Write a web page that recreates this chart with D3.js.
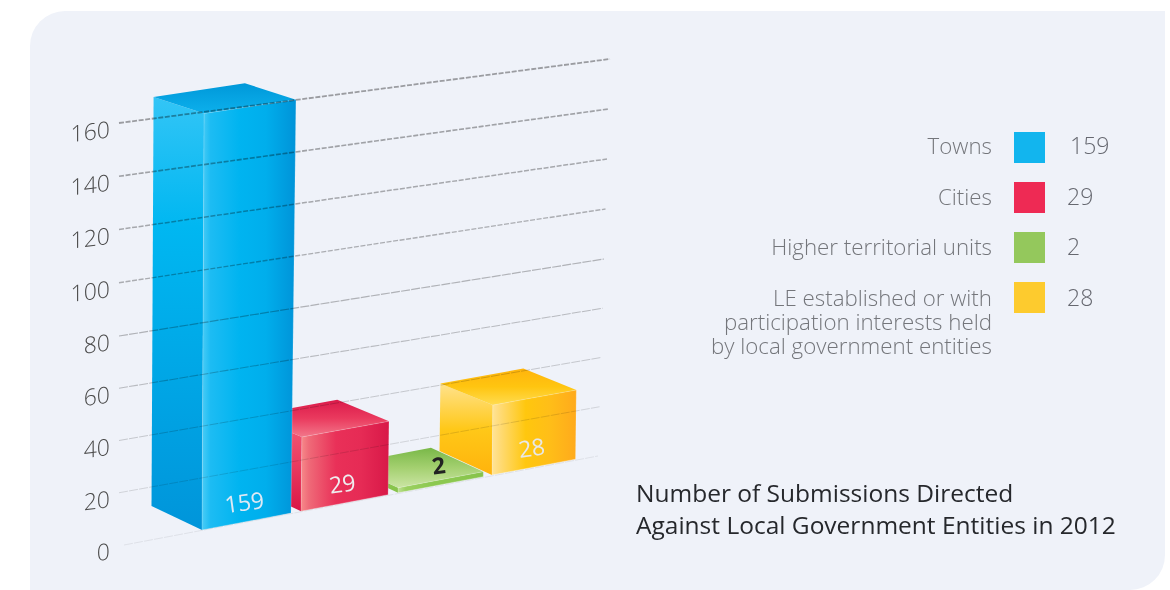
<!DOCTYPE html>
<html>
<head>
<meta charset="utf-8">
<script src="https://cdn.jsdelivr.net/npm/d3@7/dist/d3.min.js"></script>
<style>
html,body{margin:0;padding:0;background:#fff;overflow:hidden}
svg{display:block}
text{font-family:"Open Sans",Lato,sans-serif}
</style>
</head>
<body>
<svg id="chart" width="1170" height="590"></svg>
<script>
// Submissions per kind of local government entity
const categories = ["Towns", "Cities", "Higher territorial units", "LE established or with participation interests held by local government entities"];
const values = [159, 29, 2, 28];
const legendLines = [["Towns"], ["Cities"], ["Higher territorial units"], ["LE established or with", "participation interests held", "by local government entities"]];
const swatchColors = ["#12b5ee", "#ee2a54", "#94c85c", "#fdcb2e"];
const tickValues = [0, 20, 40, 60, 80, 100, 120, 140, 160];
const titleLines = ["Number of Submissions Directed", "Against Local Government Entities in 2012"];

// Face shading per bar: [front stops], [side stops], [top stops]
const shades = [
  { front: ["#49ccf6", "#1dbcf3", "#00b4f0", "#00aeec", "#0093d8"], side: ["#33c5f6", "#00b7f1", "#0095da"], top: ["#0098d9", "#0cb0ec"], label: "#dfe9f4" },
  { front: ["#f78a8a", "#ef6a78", "#e93058", "#e62b55", "#d81848"], side: ["#f2607a", "#ea3c60", "#da1646"], top: ["#db1a4a", "#ea3a5e", "#f2778a"], label: "#efeef0" },
  { front: ["#bfe094", "#9bd060", "#8cc850", "#8cc850", "#86c24a"], side: ["#9bd060", "#8cc850", "#86c24a"], top: ["#79b848", "#a4d070", "#cbe5a4"], label: "#222222" },
  { front: ["#ffe498", "#ffdb78", "#ffc70e", "#ffbe18", "#ffaa1c"], side: ["#ffe28c", "#ffc818", "#ffb30c"], top: ["#ffb40c", "#ffc510", "#ffdc50"], label: "#e8e8e8" }
];

const svg = d3.select("#chart");
const defs = svg.append("defs");

// Rounded panel behind everything
svg.append("path")
  .attr("d", "M30,46 A35,35 0 0 1 65,11 H1165 V555 A35,35 0 0 1 1130,590 H30 Z")
  .attr("fill", "#eff2f9");

// Perspective scales for the floor and the walls
const frontX = d3.scaleLinear().domain([0, 1, 2, 3]).range([202, 301, 398, 492]);
const floorY = d3.scaleLinear().domain([202, 492]).range([530, 475]);
const faceWidth = d3.scaleLinear().domain([202, 492]).range([89, 83.5]);
const unitHeight = d3.scaleLinear().domain([202, 291, 301, 576]).range([2.62, 2.6, 2.56, 2.47]);
const depthX = d3.scaleLinear().domain([202, 576]).range([-50.5, -53]);
const depthY = d3.scaleLinear().domain([0, 28, 159]).range([-24, -21.5, -16.5]);
const lean = d3.scaleLinear().domain([202, 291]).range([0.005, 0.012]).clamp(true);

// Screen position of a front corner at floor position x, height v
const corner = (x, v) => {
  const h = v * unitHeight(x);
  return [x + h * lean(x), floorY(x) - h];
};
// The same corner pushed back along the depth axis
const back = (x, v) => {
  const [px, py] = corner(x, v);
  return [px + depthX(x), py + depthY(v)];
};

function gradient(id, stops, horizontal, offsets) {
  const g = defs.append("linearGradient").attr("id", id)
    .attr("x1", 0).attr("y1", 0)
    .attr("x2", horizontal ? 1 : 0).attr("y2", horizontal ? 0 : 1);
  stops.forEach((c, i) => g.append("stop")
    .attr("offset", offsets ? offsets[i] : i / (stops.length - 1))
    .attr("stop-color", c));
}

shades.forEach((s, i) => {
  gradient(`front${i}`, s.front, true, [0, 0.09, 0.4, 0.68, 1]);
  gradient(`side${i}`, s.side, false, i === 0 ? [0, 0.3, 1] : null);
  gradient(`top${i}`, s.top, false);
});

const poly = pts => "M" + pts.map(p => p.join(",")).join("L") + "Z";
const bars = svg.append("g");

// Farther bars first so nearer ones overlap them
d3.range(categories.length).reverse().forEach(i => {
  const v = values[i];
  const x0 = frontX(i);
  const x1 = x0 + faceWidth(x0);
  const g = bars.append("g");

  g.append("path").attr("fill", `url(#side${i})`)
    .attr("d", poly([back(x0, 0), corner(x0, 0), corner(x0, v), back(x0, v)]));
  g.append("path").attr("fill", `url(#front${i})`)
    .attr("d", poly([corner(x0, 0), corner(x1, 0), corner(x1, v), corner(x0, v)]));
  g.append("path").attr("fill", `url(#top${i})`)
    .attr("d", poly([back(x0, v), back(x1, v), corner(x1, v), corner(x0, v)]));

  // Pale highlights along the box edges
  g.append("path").attr("fill", "none").attr("stroke", "#ffffff").attr("stroke-opacity", 0.22).attr("stroke-width", 0.9)
    .attr("d", "M" + [corner(x0, 0), corner(x0, v), corner(x1, v), corner(x1, 0)].map(p => p.join(",")).join("L"));
  g.append("path").attr("fill", "none").attr("stroke", "#ffffff").attr("stroke-opacity", 0.35).attr("stroke-width", 0.8)
    .attr("d", "M" + [corner(x0, 0), corner(x1, 0)].map(p => p.join(",")).join("L"));
});

// Grid lines run from the left wall to the back wall, over the bars
const yLeft = d3.scaleLinear().domain([0, 80, 160]).range([545, 336, 123]);
const yRight = d3.scaleLinear().domain([0, 80, 160]).range([456, 259, 59]);
const xRight = d3.scaleLinear().domain([0, 160]).range([598, 610]);
const gridWidth = d3.scaleLinear().domain([0, 160]).range([0.6, 1.8]);
const gridOpacity = d3.scaleLinear().domain([0, 20, 80, 160]).range([0.3, 0.45, 0.7, 0.95]);

svg.append("g").style("mix-blend-mode", "multiply")
  .selectAll("line").data(tickValues).join("line")
  .attr("x1", d => d === 0 ? 124 : 119)
  .attr("y1", d => yLeft(d))
  .attr("x2", d => xRight(d))
  .attr("y2", d => yRight(d))
  .attr("stroke", "#a0a0a0")
  .attr("stroke-width", d => gridWidth(d))
  .attr("stroke-opacity", d => gridOpacity(d))
  .attr("stroke-dasharray", d => d >= 100 ? "5 1.6" : "9 1.2");

// Value axis, sheared to sit on the slanted wall
const axis = svg.append("g").attr("transform", "translate(110,0)")
  .call(d3.axisLeft(yLeft).tickValues(tickValues).tickSize(0).tickPadding(0));
axis.select(".domain").remove();
axis.selectAll("text")
  .attr("x", 0).attr("dy", 0)
  .attr("text-anchor", "end")
  .attr("transform", "translate(0,14) skewY(-7)")
  .attr("fill", "#4a4a4a")
  .style("font-family", "'Open Sans', sans-serif")
  .style("font-weight", 300)
  .style("font-size", "23px");

// Values printed on the bars
values.forEach((v, i) => {
  const x0 = frontX(i);
  const w = faceWidth(x0);
  const cx = x0 + w / 2;
  svg.append("text")
    .attr("text-anchor", "middle")
    .attr("transform", `translate(${cx - 1},${floorY(cx) - 11}) rotate(-8)`)
    .attr("fill", shades[i].label)
    .style("font-size", "23px")
    .style("font-weight", i === 2 ? 700 : 500)
    .text(v);
});

// Legend
const swatchY = d3.scaleLinear().domain([0, 3]).range([132, 282]);
const legendBaseline = d3.scaleLinear().domain([0, 3]).range([22, 24]);
const legend = svg.append("g");
categories.forEach((c, i) => {
  const y = swatchY(i);
  legend.append("rect").attr("x", 1014).attr("y", y).attr("width", 31).attr("height", 31).attr("fill", swatchColors[i]);
  legendLines[i].forEach((line, j) => {
    legend.append("text")
      .attr("x", 992).attr("y", y + legendBaseline(i) + j * 24)
      .attr("text-anchor", "end")
      .attr("fill", "#74767b")
      .style("font-size", "22.3px").style("font-weight", 300)
      .text(line);
  });
  legend.append("text")
    .attr("x", i === 0 ? 1070 : 1067).attr("y", y + legendBaseline(i))
    .attr("fill", "#666870")
    .style("font-size", "23px").style("font-weight", 300)
    .text(values[i]);
});

// Chart title
titleLines.forEach((line, j) => {
  svg.append("text")
    .attr("x", 636).attr("y", 502 + j * 32)
    .attr("fill", "#26282c")
    .style("font-size", "24.5px")
    .text(line);
});
</script>
</body>
</html>
